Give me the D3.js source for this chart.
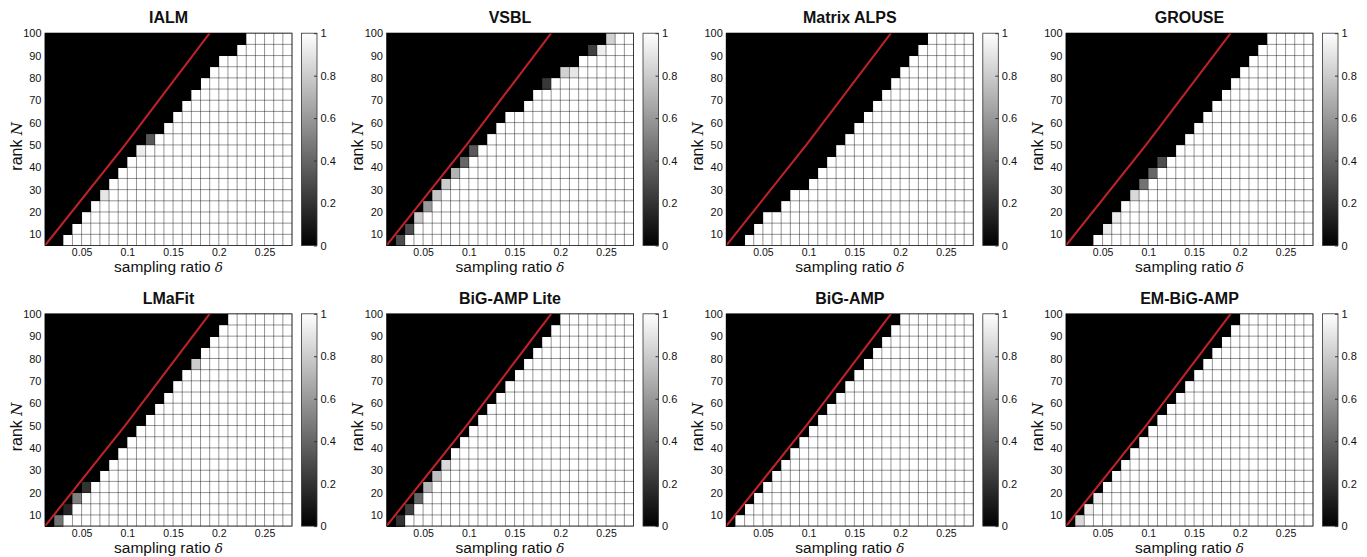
<!DOCTYPE html>
<html><head><meta charset="utf-8">
<script src="https://cdn.jsdelivr.net/npm/d3@7"></script>
<style>
body{margin:0;background:#fff;}
svg{display:block;}
text{font-family:"Liberation Sans",Arial,sans-serif;fill:#111;}
</style></head><body>
<svg id="chart" width="1367" height="557"></svg>
<script>
// ---------- data ----------
const deltaGrid = [0.01,0.02,0.03,0.04,0.05,0.06,0.07,0.08,0.09,0.10,0.11,0.12,0.13,0.14,0.15,0.16,0.17,0.18,0.19,0.20,0.21,0.22,0.23,0.24,0.25,0.26,0.27,0.28];
const rankGrid = [5,10,15,20,25,30,35,40,45,50,55,60,65,70,75,80,85,90,95,100];
const xTickValues = [0.05,0.1,0.15,0.2,0.25];
const xTickLabels = ["0.05","0.1","0.15","0.2","0.25"];
const yTickValues = [10,20,30,40,50,60,70,80,90,100];
const cbTickValues = [0,0.2,0.4,0.6,0.8,1];
const cbTickLabels = ["0","0.2","0.4","0.6","0.8","1"];
const titles = ["IALM","VSBL","Matrix ALPS","GROUSE","LMaFit","BiG-AMP Lite","BiG-AMP","EM-BiG-AMP"];
// first non-black column (index into deltaGrid cells) for each rank row, bottom to top
const edgeIALM   = [2,3,4,5,6,7,8,9,10,11,13,14,15,16,17,18,19,21,22];
const edgeVSBL   = [1,2,3,4,5,6,7,8,9,11,12,13,15,16,17,19,21,22,24];
const edgeALPS   = [2,3,4,6,7,9,10,11,12,13,14,15,16,17,18,19,20,21,22];
const edgeGROUSE = [3,4,5,6,7,8,9,10,12,13,14,15,16,17,18,19,20,21,22];
const edgeLMaFit = [1,2,3,4,6,7,8,9,10,11,12,13,14,15,16,17,18,19,20];
const edgeLite   = [1,2,3,4,5,6,7,8,9,10,11,12,13,14,15,16,17,18,19];
const edgeBiG    = [1,2,3,4,5,6,7,8,9,10,11,12,13,14,15,16,17,18,19];
const edgeEM     = [1,2,3,4,5,6,7,8,9,10,11,12,13,14,15,16,17,18,19];
// partial success cells: [row, column, success rate]
const greyIALM   = [[4,6,0.9],[8,10,0.93],[9,11,0.35]];
const greyVSBL   = [[0,1,0.3],[1,2,0.3],[2,3,0.8],[3,4,0.6],[4,5,0.78],[5,6,0.8],[6,7,0.7],[7,8,0.4],[8,9,0.35],[14,17,0.22],[15,19,0.82],[15,20,0.9],[17,22,0.25],[17,23,0.93],[18,24,0.82]];
const greyALPS   = [];
const greyGROUSE = [[1,4,0.92],[2,5,0.92],[4,7,0.85],[5,8,0.45],[6,9,0.4],[7,10,0.3]];
const greyLMaFit = [[0,1,0.45],[1,2,0.15],[2,3,0.5],[3,4,0.2],[14,16,0.8]];
const greyLite   = [[0,1,0.2],[1,2,0.25],[2,3,0.4],[3,4,0.72],[4,5,0.75],[5,6,0.85]];
const greyBiG    = [];
const greyEM     = [[0,1,0.85],[1,2,0.93],[2,3,0.93]];
// theoretical boundary (red curve)
const boundaryRank  = [5, 50, 100];
const boundaryDelta = [0.01, 0.0975, 0.19];

const edges = [edgeIALM, edgeVSBL, edgeALPS, edgeGROUSE, edgeLMaFit, edgeLite, edgeBiG, edgeEM];
const greys = [greyIALM, greyVSBL, greyALPS, greyGROUSE, greyLMaFit, greyLite, greyBiG, greyEM];

// ---------- layout ----------
const panelLeft = [45, 386.5, 726.3, 1066];
const panelTop = [33.2, 313.8];
const pw = 247, ph = 212.3;
const cbGap = 9.5, cbW = 15.5;

const svg = d3.select("#chart");
const x = d3.scaleLinear().domain([deltaGrid[0], deltaGrid[deltaGrid.length-1]]).range([0, pw]);
const y = d3.scaleLinear().domain([rankGrid[0], rankGrid[rankGrid.length-1]]).range([ph, 0]);
const color = d3.scaleLinear().domain([0,1]).range(["#000","#fff"]);
const cbScale = d3.scaleLinear().domain([0,1]).range([ph, 0]);

const defs = svg.append("defs");
const grad = defs.append("linearGradient").attr("id","gray").attr("x1",0).attr("y1",1).attr("x2",0).attr("y2",0);
grad.selectAll("stop").data(cbTickValues).enter().append("stop")
  .attr("offset", d => d).attr("stop-color", d => color(d));
defs.append("clipPath").attr("id","clip").append("rect").attr("width",pw).attr("height",ph);

titles.forEach((title, p) => {
  const col = p % 4, row = Math.floor(p / 4);
  const g = svg.append("g").attr("transform", `translate(${panelLeft[col]},${panelTop[row]})`);
  const edge = edges[p];
  const cells = [];
  for (let r = 0; r < rankGrid.length - 1; r++) {
    for (let c = 0; c < deltaGrid.length - 1; c++) {
      cells.push({r, c, v: c < edge[r] ? 0 : 1});
    }
  }
  greys[p].forEach(([r, c, v]) => { cells.find(d => d.r === r && d.c === c).v = v; });

  g.append("g").attr("shape-rendering", "crispEdges").selectAll("rect").data(cells).enter().append("rect")
    .attr("x", d => x(deltaGrid[d.c]))
    .attr("y", d => y(rankGrid[d.r + 1]))
    .attr("width", d => x(deltaGrid[d.c + 1]) - x(deltaGrid[d.c]) + 0.5)
    .attr("height", d => y(rankGrid[d.r]) - y(rankGrid[d.r + 1]) + 0.5)
    .attr("fill", d => color(d.v));

  // cell edges (pcolor grid)
  const grid = g.append("g").attr("stroke", "#000").attr("stroke-opacity", 0.42).attr("stroke-width", 1);
  grid.selectAll("line.v").data(deltaGrid).enter().append("line")
    .attr("x1", d => x(d)).attr("x2", d => x(d)).attr("y1", 0).attr("y2", ph);
  grid.selectAll("line.h").data(rankGrid).enter().append("line")
    .attr("y1", d => y(d)).attr("y2", d => y(d)).attr("x1", 0).attr("x2", pw);

  // red boundary
  const line = d3.line().x(d => x(d[0])).y(d => y(d[1]));
  g.append("path").datum(boundaryDelta.map((d, i) => [d, boundaryRank[i]]))
    .attr("d", line).attr("fill", "none").attr("stroke", "#bd2229").attr("stroke-width", 2.1)
    .attr("clip-path", "url(#clip)");

  g.append("rect").attr("width", pw).attr("height", ph).attr("fill", "none")
    .attr("stroke", "#000").attr("stroke-opacity", 0.6).attr("stroke-width", 1);

  // axes
  const ax = g.append("g").attr("transform", `translate(0,${ph})`)
    .call(d3.axisBottom(x).tickValues(xTickValues).tickFormat((d, i) => xTickLabels[i]).tickSize(0).tickPadding(3));
  ax.select(".domain").remove();
  ax.attr("font-size", null).attr("font-family", null);
  ax.selectAll("text").attr("font-size", 10.5).attr("fill", "#111");

  const ay = g.append("g")
    .call(d3.axisLeft(y).tickValues(yTickValues).tickSize(0).tickPadding(3.5));
  ay.select(".domain").remove();
  ay.attr("font-size", null).attr("font-family", null);
  ay.selectAll("text").attr("font-size", 11).attr("fill", "#111");

  // labels
  g.append("text").attr("x", pw / 2).attr("y", -10).attr("text-anchor", "middle")
    .attr("font-size", 16).attr("font-weight", "bold").text(title);

  const xl = g.append("text").attr("x", pw / 2).attr("y", ph + 26.5).attr("text-anchor", "middle").attr("font-size", 15.5);
  xl.append("tspan").text("sampling ratio ");
  xl.append("tspan").attr("font-style", "italic").attr("font-family", "DejaVu Serif").attr("font-size", 13.5).text("δ");

  const yl = g.append("text").attr("transform", `translate(-23.3,${ph / 2 + 7}) rotate(-90)`)
    .attr("text-anchor", "middle").attr("font-size", 16);
  yl.append("tspan").text("rank ");
  yl.append("tspan").attr("font-style", "italic").attr("font-family", "DejaVu Serif").attr("font-size", 15).text("N");

  // colorbar
  const cb = g.append("g").attr("transform", `translate(${pw + cbGap},0)`);
  cb.append("rect").attr("width", cbW).attr("height", ph).attr("fill", "url(#gray)")
    .attr("stroke", "#333").attr("stroke-width", 0.8);
  const ac = cb.append("g").attr("transform", `translate(${cbW},0)`)
    .call(d3.axisRight(cbScale).tickValues(cbTickValues).tickFormat((d, i) => cbTickLabels[i]).tickSizeInner(-3).tickSizeOuter(0).tickPadding(3.5));
  ac.select(".domain").remove();
  ac.attr("font-size", null).attr("font-family", null);
  ac.selectAll("line").attr("stroke", "#333");
  ac.selectAll("text").attr("font-size", 11).attr("fill", "#111");
});
</script>
</body></html>
